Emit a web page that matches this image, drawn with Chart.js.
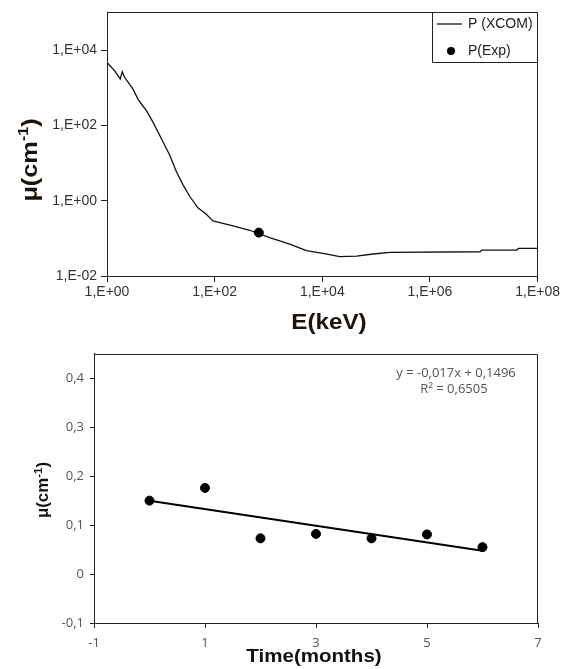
<!DOCTYPE html>
<html><head><meta charset="utf-8">
<script src="https://cdn.jsdelivr.net/npm/chart.js@4.4.1/dist/chart.umd.min.js"></script>
<style>
html,body{margin:0;padding:0;background:#fff;}
#wrap{position:relative;width:562px;height:669px;overflow:hidden;}
#c1{position:absolute;left:0;top:0;}
#c2{position:absolute;left:0;top:340px;}
</style></head><body>
<div id="wrap"><canvas id="c1" width="562" height="340"></canvas><canvas id="c2" width="562" height="329"></canvas></div>
<script>
// ---- Top chart: attenuation coefficient vs energy ----
const xcomEnergy = [1, 1.38, 1.76, 1.92, 2.12, 3.02, 3.74, 4.33, 5.36, 7.11, 10.2, 14.6, 19.4, 25.7, 34.3, 48.9, 70, 92.9, 219, 448, 1050, 2480, 5070, 10300, 21100, 43200, 87900, 180000, 8.5e6, 9.2e6, 4.1e7, 4.4e7, 1e8];
const xcomMu     = [4690, 2835, 1705, 2670, 1890, 930, 507, 375, 251, 124, 45, 16.4, 5.97, 2.67, 1.31, 0.647, 0.434, 0.289, 0.213, 0.164, 0.105, 0.0704, 0.0469, 0.0398, 0.0326, 0.0336, 0.0384, 0.0423, 0.0441, 0.0489, 0.0489, 0.054, 0.054];
const expEnergy = [662];
const expMu     = [0.142];
const topXTickValues = [1, 1e2, 1e4, 1e6, 1e8];
const topXTickLabels = ["1,E+00", "1,E+02", "1,E+04", "1,E+06", "1,E+08"];
const topYTickValues = [1e-2, 1, 1e2, 1e4];
const topYTickLabels = ["1,E-02", "1,E+00", "1,E+02", "1,E+04"];

// ---- Bottom chart: attenuation coefficient vs time ----
const timeMonths = [0, 1, 2, 3, 4, 5, 6];
const muMeasured = [0.150, 0.176, 0.073, 0.082, 0.073, 0.081, 0.055];
const trendTime = [0, 6];
const trendMu   = [0.1496, 0.0476];
const botXTickValues = [-1, 1, 3, 5, 7];
const botXTickLabels = ["-1", "1", "3", "5", "7"];
const botYTickValues = [-0.1, 0, 0.1, 0.2, 0.3, 0.4];
const botYTickLabels = ["-0,1", "0", "0,1", "0,2", "0,3", "0,4"];
const trendText = ["y = -0,017x + 0,1496", "R\u00B2 = 0,6505"];

const frameColor = '#222';
const toPts = (xs, ys) => xs.map((x, i) => ({x: x, y: ys[i]}));

function drawParts(ctx, parts, cx, cy, rot, sx, color) {
  ctx.save();
  ctx.fillStyle = color;
  ctx.textBaseline = 'middle';
  ctx.textAlign = 'left';
  let w = 0;
  parts.forEach(p => { ctx.font = p.font; p.w = ctx.measureText(p.t).width; w += p.w; });
  ctx.translate(cx, cy);
  ctx.rotate(rot);
  ctx.scale(sx, 1);
  let x = -w / 2;
  parts.forEach(p => { ctx.font = p.font; ctx.fillText(p.t, x, p.dy || 0); x += p.w; });
  ctx.restore();
}

const framePlugin = {
  id: 'frame',
  afterDraw(chart) {
    const {ctx, chartArea: a} = chart;
    ctx.save();
    ctx.strokeStyle = frameColor;
    ctx.lineWidth = 1;
    const L = Math.round(a.left) + 0.5, R = Math.round(a.right) - 0.5, T = Math.round(a.top) + 0.5;
    ctx.beginPath();
    ctx.moveTo(L, T); ctx.lineTo(R, T); ctx.lineTo(R, Math.round(a.bottom));
    ctx.stroke();
    ctx.restore();
  }
};

const topDecor = {
  id: 'topDecor',
  afterDraw(chart) {
    const ctx = chart.ctx;
    const a = chart.chartArea;
    // legend box
    const bx = 432.5, by = Math.round(a.top) + 0.5, br = Math.round(a.right) - 0.5, bb = 62.5;
    ctx.save();
    ctx.strokeStyle = frameColor; ctx.lineWidth = 1;
    ctx.beginPath(); ctx.moveTo(bx, by); ctx.lineTo(bx, bb); ctx.lineTo(br, bb); ctx.stroke();
    const ds = chart.data.datasets;
    ctx.strokeStyle = '#111'; ctx.lineWidth = 1.3;
    ctx.beginPath(); ctx.moveTo(437, 24); ctx.lineTo(462, 24); ctx.stroke();
    ctx.fillStyle = '#000';
    ctx.beginPath(); ctx.arc(451, 51, 4, 0, Math.PI * 2); ctx.fill();
    ctx.font = '14px "Liberation Sans", Arial, sans-serif';
    ctx.fillStyle = '#222'; ctx.textBaseline = 'middle'; ctx.textAlign = 'left';
    ctx.fillText(ds[0].label, 468, 24);
    ctx.fillText(ds[1].label, 468, 51);
    ctx.restore();
    // axis titles
    const tc = '#1c140c';
    drawParts(ctx, [{t: 'E(keV)', font: 'bold 22px "Liberation Sans", Arial, sans-serif'}], 329, 323, 0, 1.1, tc);
    drawParts(ctx, [
      {t: '\u03BC(cm', font: 'bold 22px "Liberation Sans", Arial, sans-serif'},
      {t: '-1', font: 'bold 14px "Liberation Sans", Arial, sans-serif', dy: -7},
      {t: ')', font: 'bold 22px "Liberation Sans", Arial, sans-serif'}
    ], 31, 160, -Math.PI / 2, 1.15, tc);
  }
};

const botDecor = {
  id: 'botDecor',
  afterDraw(chart) {
    const ctx = chart.ctx;
    const tc = '#111';
    drawParts(ctx, [{t: 'Time(months)', font: 'bold 19px "Liberation Sans", Arial, sans-serif'}], 314, 317, 0, 1.08, tc);
    drawParts(ctx, [
      {t: '\u03BC(cm', font: 'bold 16px "Liberation Sans", Arial, sans-serif'},
      {t: '-1', font: 'bold 11px "Liberation Sans", Arial, sans-serif', dy: -5},
      {t: ')', font: 'bold 16px "Liberation Sans", Arial, sans-serif'}
    ], 44, 150, -Math.PI / 2, 1.05, tc);
    const f = '13px "Open Sans", sans-serif';
    drawParts(ctx, [{t: trendText[0], font: f}], 456, 33, 0, 1.0, '#555');
    drawParts(ctx, [{t: trendText[1], font: f}], 454, 49.5, 0, 1.0, '#555');
  }
};

const topTickFont = {family: '"Liberation Sans", Arial, sans-serif', size: 14};
new Chart(document.getElementById('c1'), {
  type: 'scatter',
  data: {datasets: [
    {label: 'P (XCOM)', data: toPts(xcomEnergy, xcomMu), showLine: true, borderColor: '#111', borderWidth: 1.3, pointRadius: 0, tension: 0, order: 2},
    {label: 'P(Exp)', data: toPts(expEnergy, expMu), showLine: false, pointRadius: 4.5, backgroundColor: '#000', borderColor: '#000', order: 1}
  ]},
  options: {
    responsive: false, animation: false, devicePixelRatio: 1,
    layout: {padding: {left: 0, top: 9, right: 24, bottom: 0}},
    plugins: {legend: {display: false}, tooltip: {enabled: false}},
    scales: {
      x: {
        type: 'logarithmic', min: 1, max: 1e8,
        afterFit: s => { s.height = 64; },
        afterBuildTicks: s => { s.ticks = topXTickValues.map(v => ({value: v})); },
        ticks: {callback: (v, i) => topXTickLabels[i], autoSkip: false, maxRotation: 0, font: topTickFont, color: '#333', padding: 2},
        grid: {drawOnChartArea: false, drawTicks: true, tickLength: 6, color: frameColor},
        border: {color: frameColor, width: 1}
      },
      y: {
        type: 'logarithmic', min: 1e-2, max: 1e5,
        afterFit: s => { s.width = 107; },
        afterBuildTicks: s => { s.ticks = topYTickValues.map(v => ({value: v})); },
        ticks: {callback: (v, i) => topYTickLabels[i], autoSkip: false, font: topTickFont, color: '#333', padding: 4},
        grid: {drawOnChartArea: false, drawTicks: true, tickLength: 6, color: frameColor},
        border: {color: frameColor, width: 1}
      }
    }
  },
  plugins: [framePlugin, topDecor]
});

const botTickFont = {family: '"Open Sans", sans-serif', size: 13};
new Chart(document.getElementById('c2'), {
  type: 'scatter',
  data: {datasets: [
    {label: 'Trend', data: toPts(trendTime, trendMu), showLine: true, borderColor: '#000', borderWidth: 2, pointRadius: 0, order: 2},
    {label: 'μ', data: toPts(timeMonths, muMeasured), showLine: false, pointRadius: 4.5, backgroundColor: '#000', borderColor: '#000', order: 1}
  ]},
  options: {
    responsive: false, animation: false, devicePixelRatio: 1,
    layout: {padding: {left: 0, top: 9, right: 24, bottom: 0}},
    plugins: {legend: {display: false}, tooltip: {enabled: false}},
    scales: {
      x: {
        type: 'linear', min: -1, max: 7,
        afterFit: s => { s.height = 46; },
        afterBuildTicks: s => { s.ticks = botXTickValues.map(v => ({value: v})); },
        ticks: {callback: (v, i) => botXTickLabels[i], autoSkip: false, maxRotation: 0, font: botTickFont, color: '#555', padding: 7},
        grid: {drawOnChartArea: false, drawTicks: true, tickLength: 5, color: frameColor},
        border: {color: frameColor, width: 1}
      },
      y: {
        type: 'linear', min: -0.1, max: 0.45,
        afterFit: s => { s.width = 94; },
        afterBuildTicks: s => { s.ticks = botYTickValues.map(v => ({value: v})); },
        ticks: {callback: (v, i) => botYTickLabels[i], autoSkip: false, font: botTickFont, color: '#555', padding: 6},
        grid: {drawOnChartArea: false, drawTicks: true, tickLength: 4, color: frameColor},
        border: {color: frameColor, width: 1}
      }
    }
  },
  plugins: [framePlugin, botDecor]
});
</script>
</body></html>
